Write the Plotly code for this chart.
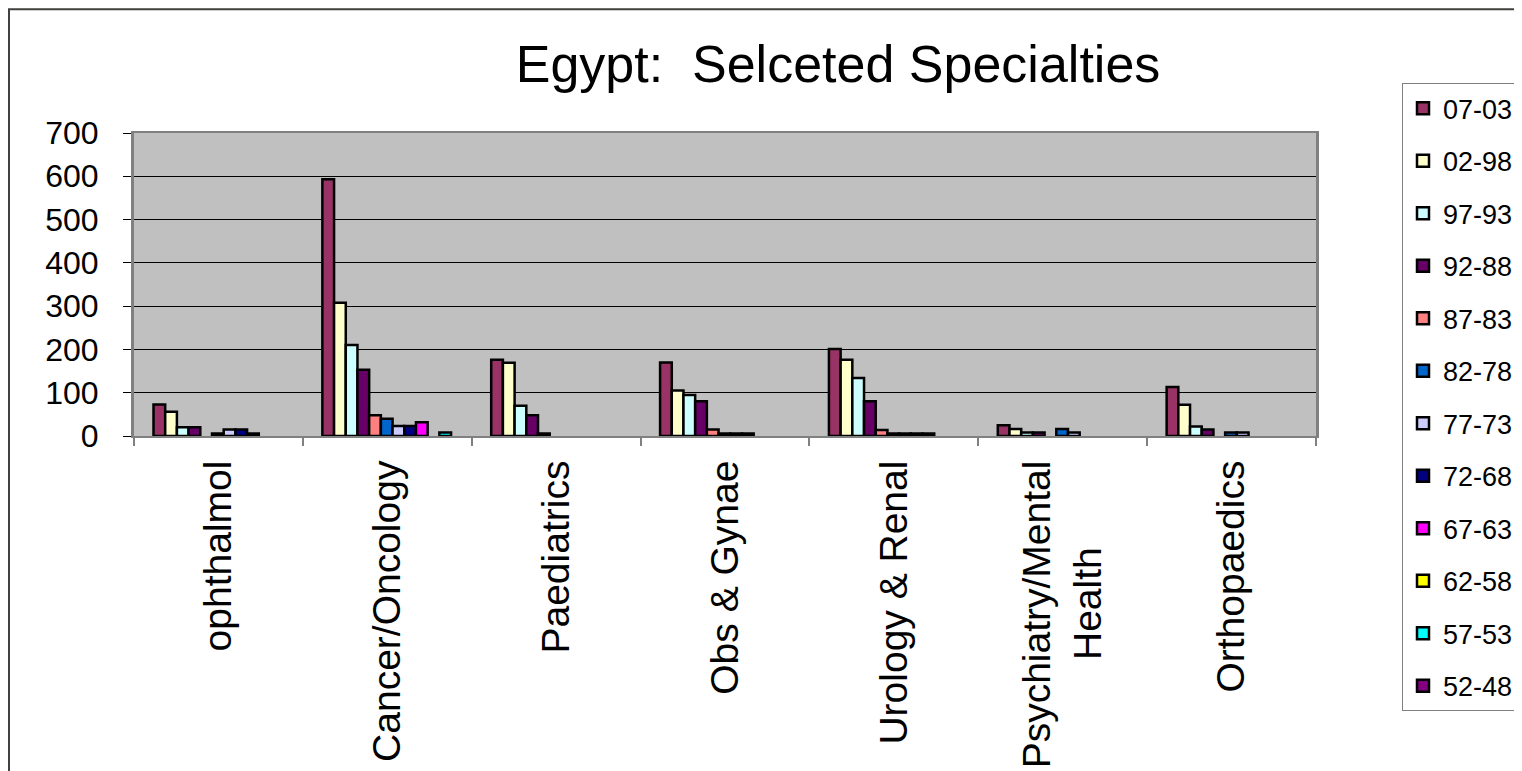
import plotly.graph_objects as go

# ---- data ----
categories = ["ophthalmol", "Cancer/Oncology", "Paediatrics", "Obs & Gynae",
              "Urology & Renal",
              "Psychiatry/Mental<br>" + "Health" + "\u00a0" * 8,
              "Orthopaedics"]
series_names = ["07-03", "02-98", "97-93", "92-88", "87-83", "82-78",
                "77-73", "72-68", "67-63", "62-58", "57-53", "52-48"]
s_07_03 = [73, 593, 176, 170, 201, 25, 113]
s_02_98 = [56, 308, 169, 105, 176, 16, 72]
s_97_93 = [20, 210, 70, 95, 134, 8, 22]
s_92_88 = [20, 153, 48, 80, 80, 8, 15]
s_87_83 = [None, 48, 6, 15, 14, None, None]
s_82_78 = [6, 40, None, 6, 6, 16, 8]
s_77_73 = [15, 23, None, 6, 6, 8, 8]
s_72_68 = [15, 23, None, 6, 6, None, None]
s_67_63 = [6, 32, None, None, 6, None, None]
s_62_58 = [None, None, None, None, None, None, None]
s_57_53 = [None, 8, None, None, None, None, None]
s_52_48 = [None, None, None, None, None, None, None]
series_values = [s_07_03, s_02_98, s_97_93, s_92_88, s_87_83, s_82_78,
                 s_77_73, s_72_68, s_67_63, s_62_58, s_57_53, s_52_48]
colors = ["#993366", "#FFFFCC", "#CCFFFF", "#660066", "#FF8080", "#0066CC",
          "#CCCCFF", "#000080", "#FF00FF", "#FFFF00", "#00FFFF", "#800080"]
y_ticks = [0, 100, 200, 300, 400, 500, 600, 700]

FONT = "Liberation Sans, Arial, sans-serif"
OFF = 8  # page body margin offset
W, H = 1522 - OFF, 771 - OFF
PL, PR, PT, PB = 134, 1316, 133, 436.5  # plot area in page pixels
L, R, T, B = PL - OFF, W - (PR - OFF), PT - OFF, H - (PB - OFF)
pw, ph = W - L - R, H - T - B
cat_px = pw / len(categories)
BAR_W = 11.7 / cat_px       # bar width, category units
LEAD = 19.5 / cat_px        # space before first bar in a group


def px_x(p):  # page px -> paper x
    return (p - OFF - L) / pw


def px_y(p):  # page px -> paper y
    return (H - B - (p - OFF)) / ph


fig = go.Figure()
for i, (name, vals, col) in enumerate(zip(series_names, series_values, colors)):
    fig.add_trace(go.Bar(
        x=categories, y=vals, name=name, legendgroup=name,
        width=BAR_W, offset=-0.5 + LEAD + i * BAR_W,
        marker=dict(color=col, line=dict(color="black", width=2.5)),
    ))

fig.update_layout(
    width=W, height=H,
    margin=dict(l=L, r=R, t=T, b=B, autoexpand=False),
    paper_bgcolor="#FFFFE0",
    plot_bgcolor="rgba(0,0,0,0)",
    barmode="group", bargap=0.18, bargroupgap=0,
    font=dict(family=FONT, color="black"),
    title=dict(text="Egypt:\u00a0 Selceted Specialties",
               font=dict(size=52, family=FONT, color="black"),
               x=(838 - OFF) / W, xanchor="center",
               y=1 - (64 - OFF) / H, yanchor="middle"),
    shapes=[
        dict(type="rect", xref="paper", yref="paper",
             x0=px_x(9), x1=px_x(1700), y0=px_y(900), y1=px_y(OFF + 1),
             fillcolor="white", line=dict(color="#404040", width=2),
             layer="below"),
        dict(type="rect", xref="paper", yref="paper",
             x0=0, x1=1, y0=0, y1=1,
             fillcolor="#C0C0C0", line=dict(width=0), layer="below"),
    ],
    legend=dict(x=px_x(1402), xanchor="left", y=px_y(83), yanchor="top",
                bgcolor="white", bordercolor="#808080", borderwidth=1,
                font=dict(size=27, family=FONT, color="black"),
                tracegroupgap=14.4, traceorder="grouped", maxheight=740),
    showlegend=True,
)

fig.update_xaxes(
    type="category", tickangle=-90, tickson="boundaries",
    ticks="outside", ticklen=8, tickcolor="#808080", tickwidth=2,
    showline=True, linecolor="#808080", linewidth=2, mirror=True,
    tickfont=dict(size=39, family=FONT, color="black"),
    ticklabelstandoff=7, showgrid=False,
)
fig.update_yaxes(
    range=[0, 700], tickvals=y_ticks, ticktext=[str(v) for v in y_ticks],
    ticks="outside", ticklen=8, tickcolor="black", tickwidth=1,
    showline=True, linecolor="#808080", linewidth=3, mirror=True,
    showgrid=True, gridcolor="black", gridwidth=1, zeroline=False,
    tickfont=dict(size=32, family=FONT, color="black"),
    ticklabelstandoff=18,
)

fig.write_html("out.html")
